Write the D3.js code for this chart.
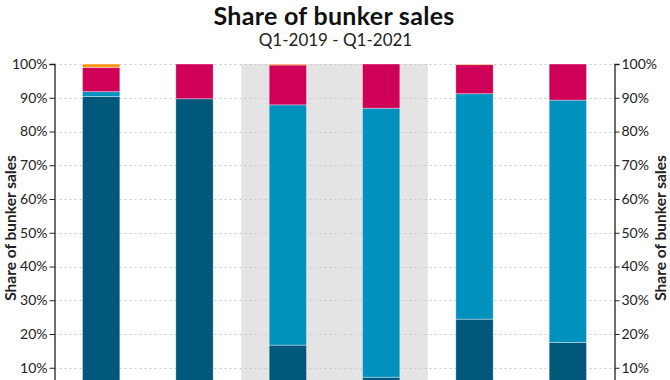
<!DOCTYPE html>
<html>
<head>
<meta charset="utf-8">
<script src="https://cdn.jsdelivr.net/npm/d3@7/dist/d3.min.js"></script>
<style>
  html, body { margin: 0; padding: 0; background: #fff; overflow: hidden; }
  text { font-family: Lato, "Open Sans", sans-serif; }
</style>
</head>
<body>
<div id="chart"></div>
<script>
// ---- Data ----
const categories = ["Q1-2019", "Q3-2019", "Q4-2019", "Q1-2020", "Q3-2020", "Q1-2021"];
const seriesNames = ["HSFO", "VLSFO", "MGO", "Other"];
const hsfo  = [90.4, 89.7, 16.7, 7.2, 24.4, 17.5];
const vlsfo = [1.4, 0.0, 71.2, 79.7, 66.8, 71.8];
const mgo   = [7.2, 10.3, 11.8, 13.1, 8.6, 10.7];
const other = [1.0, 0.0, 0.3, 0.0, 0.2, 0.0];
const shadedCategories = ["Q4-2019", "Q1-2020"];
const yTicks = [0, 10, 20, 30, 40, 50, 60, 70, 80, 90, 100];
const colors = ["#00587a", "#0091bd", "#cf0057", "#f7941d"];

const W = 670, H = 380;
const margin = { left: 54.5, right: 55.5, top: 64, bottom: -21.5 };

const rows = categories.map((c, i) => ({
  cat: c, HSFO: hsfo[i], VLSFO: vlsfo[i], MGO: mgo[i], Other: other[i]
}));
const stack = d3.stack().keys(seriesNames)(rows);

const svg = d3.select("#chart").append("svg")
  .attr("width", W).attr("height", H);

const x = d3.scaleBand()
  .domain(categories)
  .range([margin.left, W - margin.right])
  .paddingInner(0.6).paddingOuter(0.3);

const y = d3.scaleLinear().domain([0, 100]).range([H - margin.bottom, margin.top]);

// plot band
const step = x.step();
const bandStart = x(shadedCategories[0]) - x.paddingInner() * step / 2;
const bandEnd = x(shadedCategories[shadedCategories.length - 1]) + x.bandwidth() + x.paddingInner() * step / 2;
svg.append("rect")
  .attr("x", bandStart).attr("y", y(100))
  .attr("width", bandEnd - bandStart).attr("height", y(0) - y(100))
  .attr("fill", "#e4e4e4");

// gridlines
svg.append("g").selectAll("line").data(yTicks).join("line")
  .attr("x1", margin.left).attr("x2", W - margin.right)
  .attr("y1", d => Math.round(y(d)) + 0.5).attr("y2", d => Math.round(y(d)) + 0.5)
  .attr("stroke", "#c8c8c8").attr("stroke-width", 1)
  .attr("stroke-dasharray", "2,3");

// bars
svg.append("g").selectAll("g").data(stack).join("g")
  .attr("fill", (d, i) => colors[i])
  .selectAll("rect").data(d => d.map(v => ({ v, key: d.key }))).join("rect")
  .filter(d => d.v[1] - d.v[0] > 0)
  .attr("x", d => x(d.v.data.cat))
  .attr("width", x.bandwidth())
  .attr("y", d => y(d.v[1]))
  .attr("height", d => y(d.v[0]) - y(d.v[1]))
  .attr("stroke", "#ffffff").attr("stroke-opacity", 0.45).attr("stroke-width", 0.8);

// axes
const fmt = d => d + "%";
const leftAxis = d3.axisLeft(y).tickValues(yTicks.filter(t => t > 0)).tickFormat(fmt).tickSizeOuter(0).tickSize(5).tickPadding(2);
const rightAxis = d3.axisRight(y).tickValues(yTicks.filter(t => t > 0)).tickFormat(fmt).tickSizeOuter(0).tickSize(5).tickPadding(2);

const gl = svg.append("g").attr("transform", `translate(${margin.left},0)`).call(leftAxis);
const gr = svg.append("g").attr("transform", `translate(${W - margin.right},0)`).call(rightAxis);
[gl, gr].forEach(g => {
  g.select(".domain").attr("stroke", "#222").attr("stroke-width", 1.3);
  g.selectAll(".tick line").attr("stroke", "#222");
  g.selectAll(".tick text").attr("fill", "#222").style("font-size", "14px").style("font-family", "Lato");
});

// axis titles
const midY = 228;
svg.append("text")
  .attr("transform", `translate(15.5,${midY}) rotate(-90)`)
  .attr("text-anchor", "middle")
  .style("font-size", "15.5px").style("font-weight", "bold").attr("fill", "#222")
  .text("Share of bunker sales");
svg.append("text")
  .attr("transform", `translate(666,${midY}) rotate(-90)`)
  .attr("text-anchor", "middle")
  .style("font-size", "15.5px").style("font-weight", "bold").attr("fill", "#222")
  .text("Share of bunker sales");

// titles
svg.append("text").attr("x", 334).attr("y", 25).attr("text-anchor", "middle")
  .style("font-size", "25px").style("font-weight", "bold").style("letter-spacing", "0.3px").attr("fill", "#111")
  .text("Share of bunker sales");
svg.append("text").attr("x", 335.5).attr("y", 45.5).attr("text-anchor", "middle")
  .style("font-size", "17px").attr("fill", "#222")
  .text("Q1-2019 - Q1-2021");
</script>
</body>
</html>
